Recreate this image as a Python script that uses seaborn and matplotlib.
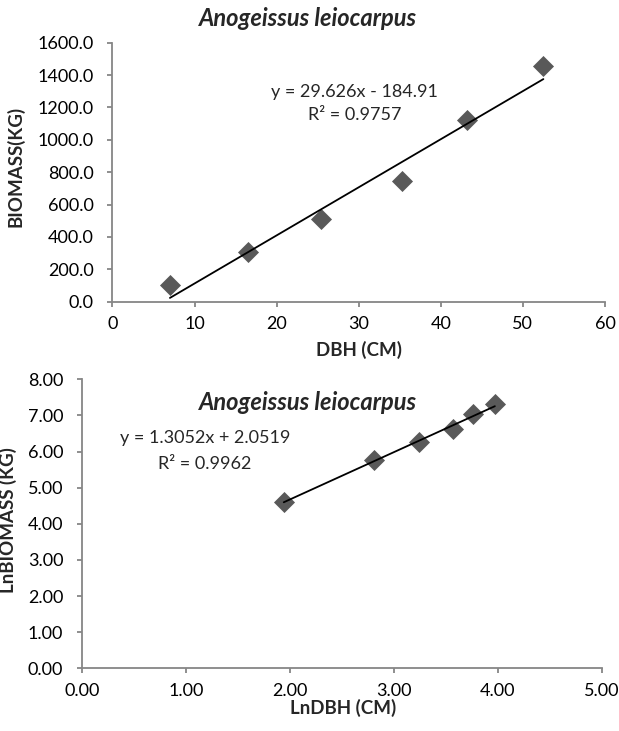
import numpy as np
import pandas as pd
import matplotlib
matplotlib.use("Agg")
import matplotlib.pyplot as plt
import seaborn as sns

# 데이터
dbh_cm = [7.0, 16.5, 25.4, 35.3, 43.2, 52.5]
biomass_kg = [100, 305, 510, 745, 1121, 1456]

ln_dbh = [1.94, 2.81, 3.24, 3.57, 3.76, 3.97]
ln_biomass = [4.61, 5.76, 6.27, 6.62, 7.03, 7.31]

species = "Anogeissus leiocarpus"
eq_top = ["y = 29.626x - 184.91", "R² = 0.9757"]
eq_bottom = ["y = 1.3052x + 2.0519", "R² = 0.9962"]

sns.set_style("white")
plt.rcParams['font.family'] = ['Lato', 'DejaVu Sans']

MARKER_COLOR = "#595959"
SPINE_COLOR = "#868686"
TICK_FS = 13
LABEL_FS = 13.5
EQ_FS = 13
TITLE_FS = 17

fig = plt.figure(figsize=(6.19, 7.31), dpi=100)
ax1 = fig.add_axes([0.1817, 0.5873, 0.7956, 0.3543])
ax2 = fig.add_axes([0.1325, 0.0858, 0.840, 0.3953])

df1 = pd.DataFrame({"dbh": dbh_cm, "biomass": biomass_kg})
df2 = pd.DataFrame({"lndbh": ln_dbh, "lnbiomass": ln_biomass})


def style_axes(ax):
    for side in ["top", "right"]:
        ax.spines[side].set_visible(False)
    for side in ["left", "bottom"]:
        ax.spines[side].set_color(SPINE_COLOR)
        ax.spines[side].set_linewidth(1.3)
    ax.tick_params(axis="both", direction="out", length=3.5, width=1.3,
                   color=SPINE_COLOR, labelsize=TICK_FS, labelcolor="black",
                   left=True, bottom=True)
    ax.tick_params(axis="x", pad=7)
    ax.tick_params(axis="y", pad=10)


# --- 상단: DBH vs BIOMASS ---
sns.regplot(data=df1, x="dbh", y="biomass", ax=ax1, ci=None, truncate=True,
            marker="D",
            scatter_kws={"s": 115, "color": MARKER_COLOR, "alpha": 1, "linewidths": 0},
            line_kws={"color": "black", "linewidth": 1.3})
ax1.set_xlim(0, 60)
ax1.set_ylim(0, 1600)
ax1.set_xticks(np.arange(0, 61, 10))
ax1.set_yticks(np.arange(0, 1601, 200))
ax1.set_yticklabels([f"{v:.1f}" for v in np.arange(0, 1601, 200)])
style_axes(ax1)
ax1.set_xlabel("DBH (CM)", fontsize=LABEL_FS, fontweight="bold")
ax1.set_ylabel("BIOMASS(KG)", fontsize=LABEL_FS, fontweight="bold")
ax1.xaxis.set_label_coords(0.5005, -0.152)
ax1.yaxis.set_label_coords(-0.178, 0.524)
ax1.text(0.492, 0.811, eq_top[0], transform=ax1.transAxes, ha="center", va="center", fontsize=EQ_FS)
ax1.text(0.492, 0.721, eq_top[1], transform=ax1.transAxes, ha="center", va="center", fontsize=EQ_FS)
fig.text(0.4976, 0.975, species, ha="center", va="center",
         fontsize=TITLE_FS, fontweight="bold", fontstyle="italic")

# --- 하단: LnDBH vs LnBIOMASS ---
sns.regplot(data=df2, x="lndbh", y="lnbiomass", ax=ax2, ci=None, truncate=True,
            marker="D",
            scatter_kws={"s": 115, "color": MARKER_COLOR, "alpha": 1, "linewidths": 0},
            line_kws={"color": "black", "linewidth": 1.3})
ax2.set_xlim(0, 5)
ax2.set_ylim(0, 8)
ax2.set_xticks(np.arange(0, 5.01, 1))
ax2.set_xticklabels([f"{v:.2f}" for v in np.arange(0, 5.01, 1)])
ax2.set_yticks(np.arange(0, 8.01, 1))
ax2.set_yticklabels([f"{v:.2f}" for v in np.arange(0, 8.01, 1)])
style_axes(ax2)
ax2.set_xlabel("LnDBH (CM)", fontsize=LABEL_FS, fontweight="bold")
ax2.set_ylabel("LnBIOMASS (KG)", fontsize=LABEL_FS, fontweight="bold")
ax2.xaxis.set_label_coords(0.502, -0.106)
ax2.yaxis.set_label_coords(-0.125, 0.513)
ax2.text(0.435, 0.921, species, transform=ax2.transAxes, ha="center", va="center",
         fontsize=TITLE_FS, fontweight="bold", fontstyle="italic")
ax2.text(0.2365, 0.797, eq_bottom[0], transform=ax2.transAxes, ha="center", va="center", fontsize=EQ_FS)
ax2.text(0.2365, 0.707, eq_bottom[1], transform=ax2.transAxes, ha="center", va="center", fontsize=EQ_FS)

fig.savefig("out.png", dpi=100)
